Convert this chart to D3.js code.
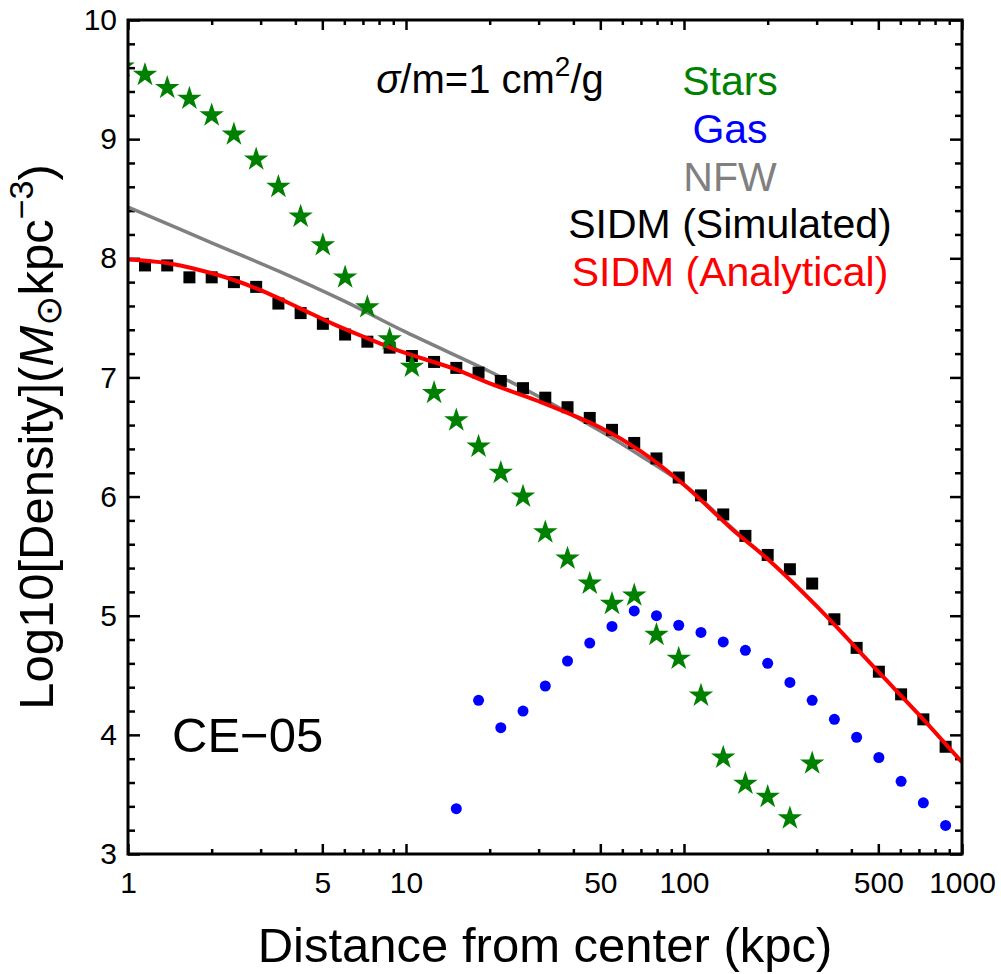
<!DOCTYPE html>
<html>
<head>
<meta charset="utf-8">
<script src="https://cdn.jsdelivr.net/npm/d3@7"></script>
<style>
  body { margin: 0; background: #fff; }
  svg { display: block; font-family: "Liberation Sans", Arial, sans-serif; }
</style>
</head>
<body>
<svg id="chart" width="1001" height="974"></svg>
<script>
// radii (kpc) of the simulation bins
const radii = [1.151, 1.384, 1.663, 2.0, 2.404, 2.891, 3.475, 4.178, 5.023, 6.039,
  7.261, 8.73, 10.5, 12.62, 15.17, 18.24, 21.93, 26.36, 31.7, 38.11,
  45.81, 55.08, 66.22, 79.62, 95.72, 115.1, 138.4, 166.3, 200.0, 240.4,
  289.1, 347.5, 417.8, 502.3, 603.9, 726.1, 873.0];

const sidmSimulated = [7.94, 7.94, 7.84, 7.84, 7.80, 7.76, 7.62, 7.54, 7.45, 7.36,
  7.30, 7.25, 7.18, 7.13, 7.08, 7.04, 6.97, 6.91, 6.83, 6.75,
  6.66, 6.56, 6.45, 6.32, 6.16, 6.01, 5.85, 5.67, 5.51, 5.39,
  5.27, 4.97, 4.73, 4.53, 4.34, 4.13, 3.90];

const starRadii = [0.957].concat(radii.slice(0, 31));
const stars = [9.61, 9.54, 9.43, 9.34, 9.20, 9.04, 8.83, 8.60, 8.35, 8.11,
  7.84, 7.59, 7.32, 7.09, 6.87, 6.64, 6.42, 6.20, 6.00, 5.70,
  5.48, 5.27, 5.10, 5.17, 4.84, 4.64, 4.33, 3.81, 3.59, 3.48,
  3.30, 3.76];

const gasRadii = radii.slice(14);
const gas = [3.38, 4.29, 4.06, 4.20, 4.41, 4.62, 4.77, 4.91, 5.04, 5.00,
  4.92, 4.86, 4.78, 4.71, 4.60, 4.44, 4.29, 4.13, 3.98, 3.81,
  3.61, 3.43, 3.24];

const nfwRadii = [1, 2, 3.5, 6, 10, 20, 30, 50, 70, 100, 150, 199];
const nfw = [8.43, 8.13, 7.89, 7.64, 7.38, 7.05, 6.84, 6.55, 6.34, 6.10, 5.73, 5.48];

const analyticRadii = [1, 1.38, 1.82, 2.39, 3.16, 4.16, 5.46, 7.24, 9.51, 15,
  20, 30, 50, 70, 100, 150, 199, 300, 500, 700, 1000];
const sidmAnalytic = [7.99, 7.96, 7.90, 7.82, 7.71, 7.58, 7.45, 7.33, 7.22, 7.07,
  6.95, 6.80, 6.58, 6.38, 6.10, 5.72, 5.48, 5.08, 4.53, 4.17, 3.77];

const xMajor = [1, 5, 10, 50, 100, 500, 1000];
const xMinor = [2, 3, 4, 6, 7, 8, 9, 20, 30, 40, 60, 70, 80, 90, 200, 300, 400, 600, 700, 800, 900];
const yMajor = [3, 4, 5, 6, 7, 8, 9, 10];
const yMinor = d3.range(3, 10.001, 0.2).filter((v) => Math.abs(v - Math.round(v)) > 0.01);

const legendLabels = ["Stars", "Gas", "NFW", "SIDM (Simulated)", "SIDM (Analytical)"];
const legendColors = ["#008000", "#0000ff", "#808080", "#000000", "#ff0000"];

const LEFT = 128;
const RIGHT = 962;
const TOP = 20;
const BOTTOM = 854;

const svg = d3.select("#chart");

const x = d3.scaleLog().domain([1, 1000]).range([LEFT, RIGHT]);
const y = d3.scaleLinear().domain([3, 10]).range([BOTTOM, TOP]);

svg.append("defs")
  .append("clipPath")
  .attr("id", "plot-area")
  .append("rect")
  .attr("x", LEFT)
  .attr("y", TOP)
  .attr("width", RIGHT - LEFT)
  .attr("height", BOTTOM - TOP);

function styleAxis(g) {
  g.select(".domain").remove();
  g.selectAll("line").attr("stroke", "#000").attr("stroke-width", 2.5);
  g.selectAll("text")
    .attr("fill", "#000")
    .style("font-size", "30px")
    .style("font-family", "\"Liberation Sans\", Arial, sans-serif");
}

// bottom
svg.append("g")
  .attr("transform", `translate(0, ${BOTTOM})`)
  .call(d3.axisBottom(x).tickValues(xMajor).tickFormat(d3.format("d")).tickSize(-10).tickPadding(18))
  .call(styleAxis);
svg.append("g")
  .attr("transform", `translate(0, ${BOTTOM})`)
  .call(d3.axisBottom(x).tickValues(xMinor).tickFormat("").tickSize(-5))
  .call(styleAxis);

// top
svg.append("g")
  .attr("transform", `translate(0, ${TOP})`)
  .call(d3.axisTop(x).tickValues(xMajor).tickFormat("").tickSize(-10))
  .call(styleAxis);
svg.append("g")
  .attr("transform", `translate(0, ${TOP})`)
  .call(d3.axisTop(x).tickValues(xMinor).tickFormat("").tickSize(-5))
  .call(styleAxis);

// left
svg.append("g")
  .attr("transform", `translate(${LEFT}, 0)`)
  .call(d3.axisLeft(y).tickValues(yMajor).tickFormat(d3.format("d")).tickSize(-12).tickPadding(11))
  .call(styleAxis);
svg.append("g")
  .attr("transform", `translate(${LEFT}, 0)`)
  .call(d3.axisLeft(y).tickValues(yMinor).tickFormat("").tickSize(-7))
  .call(styleAxis);

// right
svg.append("g")
  .attr("transform", `translate(${RIGHT}, 0)`)
  .call(d3.axisRight(y).tickValues(yMajor).tickFormat("").tickSize(-12))
  .call(styleAxis);
svg.append("g")
  .attr("transform", `translate(${RIGHT}, 0)`)
  .call(d3.axisRight(y).tickValues(yMinor).tickFormat("").tickSize(-7))
  .call(styleAxis);

const plot = svg.append("g").attr("clip-path", "url(#plot-area)");

const line = d3.line()
  .x((d) => x(d[0]))
  .y((d) => y(d[1]))
  .curve(d3.curveCatmullRom);

plot.append("path")
  .datum(d3.zip(nfwRadii, nfw))
  .attr("d", line)
  .attr("fill", "none")
  .attr("stroke", "#808080")
  .attr("stroke-width", 3.5);

plot.selectAll(".sim")
  .data(d3.zip(radii, sidmSimulated))
  .enter()
  .append("path")
  .attr("class", "sim")
  .attr("d", d3.symbol().type(d3.symbolSquare).size(144))
  .attr("transform", (d) => `translate(${x(d[0])}, ${y(d[1])})`)
  .attr("fill", "#000");

plot.append("path")
  .datum(d3.zip(analyticRadii, sidmAnalytic))
  .attr("d", line)
  .attr("fill", "none")
  .attr("stroke", "#ff0000")
  .attr("stroke-width", 4);

plot.selectAll(".gas")
  .data(d3.zip(gasRadii, gas))
  .enter()
  .append("circle")
  .attr("class", "gas")
  .attr("cx", (d) => x(d[0]))
  .attr("cy", (d) => y(d[1]))
  .attr("r", 5.5)
  .attr("fill", "#0000ff");

plot.selectAll(".star")
  .data(d3.zip(starRadii, stars))
  .enter()
  .append("path")
  .attr("class", "star")
  .attr("d", d3.symbol().type(d3.symbolStar).size(185))
  .attr("transform", (d) => `translate(${x(d[0])}, ${y(d[1])})`)
  .attr("fill", "#008000");

// frame
svg.append("rect")
  .attr("x", LEFT)
  .attr("y", TOP)
  .attr("width", RIGHT - LEFT)
  .attr("height", BOTTOM - TOP)
  .attr("fill", "none")
  .attr("stroke", "#000")
  .attr("stroke-width", 3);

// legend
svg.selectAll(".legend")
  .data(legendLabels)
  .enter()
  .append("text")
  .attr("class", "legend")
  .attr("x", 730)
  .attr("y", (d, i) => 95 + i * 47.8)
  .attr("text-anchor", "middle")
  .attr("fill", (d, i) => legendColors[i])
  .style("font-size", "41px")
  .text((d) => d);

const sigma = svg.append("text")
  .attr("x", 490)
  .attr("y", 93)
  .attr("text-anchor", "middle")
  .style("font-size", "40px");
sigma.append("tspan").style("font-style", "italic").text("σ");
sigma.append("tspan").text("/m=1 cm");
sigma.append("tspan").attr("dy", -17).style("font-size", "28px").text("2");
sigma.append("tspan").attr("dy", 17).text("/g");

svg.append("text")
  .attr("x", 172)
  .attr("y", 752)
  .style("font-size", "49px")
  .text("CE\u221205");

svg.append("text")
  .attr("x", (LEFT + RIGHT) / 2)
  .attr("y", 962)
  .attr("text-anchor", "middle")
  .style("font-size", "49px")
  .text("Distance from center (kpc)");

const yLabel = svg.append("text")
  .attr("transform", `translate(53, ${(TOP + BOTTOM) / 2}) rotate(-90)`)
  .attr("text-anchor", "middle")
  .style("font-size", "49px");
yLabel.append("tspan").text("Log10[Density](");
yLabel.append("tspan").style("font-style", "italic").text("M");
yLabel.append("tspan").attr("dy", 8).style("font-size", "36px").style("font-family", "\"DejaVu Sans\", sans-serif").text("\u2299");
yLabel.append("tspan").attr("dy", -8).text("kpc");
yLabel.append("tspan").attr("dy", -20).style("font-size", "34px").text("\u22123");
yLabel.append("tspan").attr("dy", 20).text(")");
</script>
</body>
</html>
